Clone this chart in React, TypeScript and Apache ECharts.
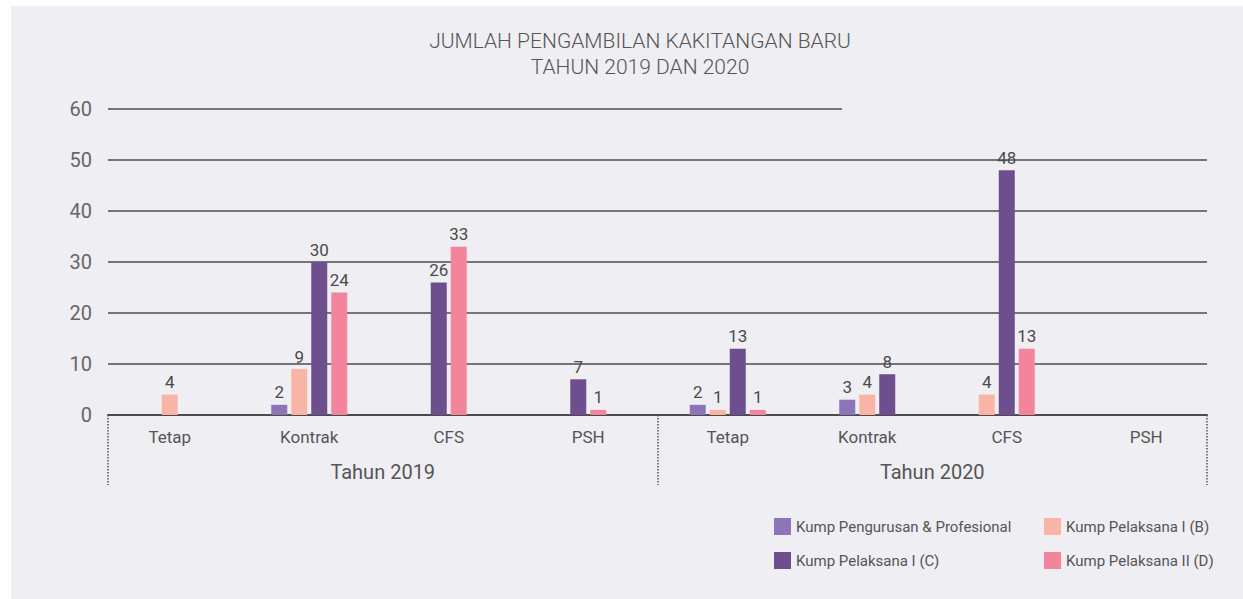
import React, { useEffect, useRef } from "react";
import * as echarts from "echarts";

const categories = ["Tetap", "Kontrak", "CFS", "PSH", "Tetap", "Kontrak", "CFS", "PSH"];
const years = ["Tahun 2019", "Tahun 2020"];
const seriesNames = [
  "Kump Pengurusan & Profesional",
  "Kump Pelaksana I (B)",
  "Kump Pelaksana I (C)",
  "Kump Pelaksana II (D)",
];
const pengurusan = [0, 2, 0, 0, 2, 3, 0, 0];
const pelaksanaB = [4, 9, 0, 0, 1, 4, 4, 0];
const pelaksanaC = [0, 30, 26, 7, 13, 8, 48, 0];
const pelaksanaD = [0, 24, 33, 1, 1, 0, 13, 0];
const colors = ["#8c75b8", "#f9b4a5", "#6c4f8c", "#f2849c"];
const yTicks = [0, 10, 20, 30, 40, 50, 60];
const titleLines = ["JUMLAH PENGAMBILAN KAKITANGAN BARU", "TAHUN 2019 DAN 2020"];

const COND = "Roboto, 'Noto Sans', sans-serif";
const REG = "Roboto, 'Noto Sans', sans-serif";

const BAR_W = 16;
const BAR_PITCH = 20;

export default function App() {
  const ref = useRef<HTMLDivElement>(null);
  useEffect(() => {
    if (!ref.current) return;
    const chart = echarts.init(ref.current, undefined, { renderer: "svg" });
    const values = [pengurusan, pelaksanaB, pelaksanaC, pelaksanaD];
    const yMax = yTicks[yTicks.length - 1];

    const makeRender = (si: number) => (params: any, api: any) => {
      const j = api.value(0);
      const v = api.value(1);
      if (!(v > 0)) return null;
      const present: number[] = [];
      values.forEach((arr, k) => {
        if (arr[j] > 0) present.push(k);
      });
      const n = present.length;
      const pos = present.indexOf(si);
      const offset = (pos - (n - 1) / 2) * BAR_PITCH;
      const base = api.coord([j, 0]);
      const top = api.coord([j, v]);
      const cx = base[0] + offset;
      return {
        type: "group",
        children: [
          {
            type: "rect",
            shape: { x: cx - BAR_W / 2, y: top[1], width: BAR_W, height: base[1] - top[1] },
            style: { fill: colors[si] },
          },
          {
            type: "text",
            x: cx,
            y: top[1] - 4,
            style: {
              text: String(v),
              align: "center",
              verticalAlign: "bottom",
              fontFamily: COND,
              fontSize: 17,
              fill: "#4a4a4a",
            },
          },
        ],
      };
    };

    const option: any = {
      animation: false,
      backgroundColor: "#ffffff",
      graphic: [
        {
          type: "rect",
          z: -10,
          silent: true,
          shape: { x: 11, y: 6, width: 1232, height: 593 },
          style: { fill: "#efeef3" },
        },
        {
          type: "text",
          x: 640,
          y: 30,
          style: {
            text: titleLines[0],
            align: "center",
            verticalAlign: "top",
            fontFamily: REG,
            fontWeight: 300,
            fontSize: 21,
            fill: "#555555",
          },
        },
        {
          type: "text",
          x: 640,
          y: 56,
          style: {
            text: titleLines[1],
            align: "center",
            verticalAlign: "top",
            fontFamily: REG,
            fontWeight: 300,
            fontSize: 21,
            fill: "#555555",
          },
        },
        {
          type: "line",
          shape: { x1: 108, y1: 109, x2: 842, y2: 109 },
          style: { stroke: "#4d4d4d", lineWidth: 1.5 },
        },
      ],
      legend: [
        {
          data: [seriesNames[0], seriesNames[2]],
          orient: "vertical",
          left: 769,
          top: 513,
          itemWidth: 17,
          itemHeight: 17,
          itemGap: 17,
          icon: "rect",
          textStyle: { fontFamily: COND, fontSize: 15, color: "#555555" },
        },
        {
          data: [seriesNames[1], seriesNames[3]],
          orient: "vertical",
          left: 1039,
          top: 513,
          itemWidth: 17,
          itemHeight: 17,
          itemGap: 17,
          icon: "rect",
          textStyle: { fontFamily: COND, fontSize: 15, color: "#555555" },
        },
      ],
      grid: [
        { left: 100, right: 27, top: 109, bottom: 184 },
        { left: 108, right: 36, top: 109, bottom: 184 },
      ],
      xAxis: [
        {
          type: "category",
          gridIndex: 0,
          data: categories,
          axisLine: { show: false },
          axisTick: { show: false },
          axisLabel: { fontFamily: COND, fontSize: 17, color: "#555555", margin: 13, interval: 0 },
        },
        {
          type: "category",
          gridIndex: 1,
          data: years,
          position: "bottom",
          offset: 10,
          axisLine: { show: false },
          axisTick: {
            show: true,
            length: 70,
            lineStyle: { type: "dotted", color: "#555555", width: 1.5 },
          },
          axisLabel: { fontFamily: REG, fontSize: 20, color: "#555555", margin: 37 },
        },
        {
          type: "category",
          gridIndex: 1,
          data: years,
          position: "bottom",
          offset: 0,
          axisLine: { show: true, lineStyle: { color: "#4a4a4a", width: 2 } },
          axisTick: { show: false },
          axisLabel: { show: false },
        },
      ],
      yAxis: [
        { type: "value", gridIndex: 0, min: 0, max: yMax, interval: 10, show: false },
        {
          type: "value",
          gridIndex: 1,
          min: 0,
          max: yMax,
          interval: 10,
          axisLine: { show: false },
          axisTick: { show: false },
          axisLabel: {
            fontFamily: REG,
            fontSize: 20,
            color: "#666666",
            margin: 16,
            padding: [0, 0, 10, 0],
          },
          splitLine: {
            show: true,
            showMinLine: false,
            showMaxLine: false,
            lineStyle: { color: "#4d4d4d", width: 1.5 },
          },
        },
      ],
      series: seriesNames.map((name, i) => ({
        name,
        type: "custom",
        coordinateSystem: "cartesian2d",
        xAxisIndex: 0,
        yAxisIndex: 0,
        itemStyle: { color: colors[i] },
        renderItem: makeRender(i),
        encode: { x: 0, y: 1 },
        data: values[i].map((v, j) => [j, v]),
      })),
    };
    chart.setOption(option);
    return () => chart.dispose();
  }, []);
  return (
    <div
      ref={ref}
      style={{ position: "absolute", left: 0, top: 0, width: 1243, height: 599 }}
    />
  );
}
